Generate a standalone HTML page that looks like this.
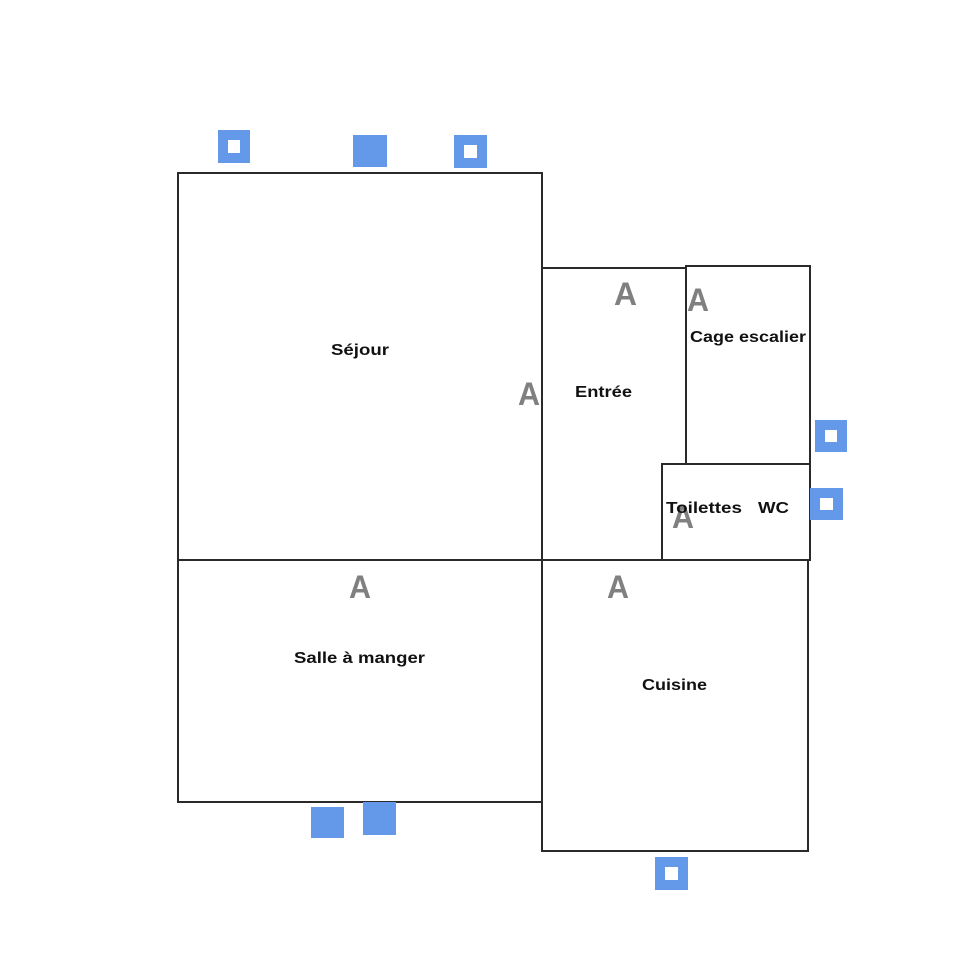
<!DOCTYPE html>
<html><head><meta charset="utf-8"><style>html,body{margin:0;padding:0;background:#fff}svg{display:block}</style></head>
<body>
<svg width="980" height="980" viewBox="0 0 980 980" xmlns="http://www.w3.org/2000/svg">
<g fill="none" stroke="#2a2a2a" stroke-width="2">
<rect x="178" y="173" width="364" height="387"/>
<path d="M542 268 H686"/>
<rect x="686" y="266" width="124" height="198"/>
<rect x="662" y="464" width="148" height="96"/>
<rect x="178" y="560" width="364" height="242"/>
<rect x="542" y="560" width="266" height="291"/>
</g>
<g font-family="Liberation Sans, sans-serif" font-weight="bold" font-size="32" fill="#808080">
<text x="518" y="405" textLength="22" lengthAdjust="spacingAndGlyphs">A</text>
<text x="614" y="305" textLength="23" lengthAdjust="spacingAndGlyphs">A</text>
<text x="687" y="311" textLength="22" lengthAdjust="spacingAndGlyphs">A</text>
<text x="672" y="528" textLength="22" lengthAdjust="spacingAndGlyphs">A</text>
<text x="349" y="598" textLength="22" lengthAdjust="spacingAndGlyphs">A</text>
<text x="607" y="598" textLength="22" lengthAdjust="spacingAndGlyphs">A</text>
</g>
<g font-family="Liberation Sans, sans-serif" font-weight="bold" font-size="16" fill="#111">
<text x="331" y="355" textLength="58" lengthAdjust="spacingAndGlyphs">Séjour</text>
<text x="575" y="397" textLength="57" lengthAdjust="spacingAndGlyphs">Entrée</text>
<text x="690" y="342" textLength="116" lengthAdjust="spacingAndGlyphs">Cage escalier</text>
<text x="666" y="513" textLength="76" lengthAdjust="spacingAndGlyphs">Toilettes</text>
<text x="758" y="513" textLength="31" lengthAdjust="spacingAndGlyphs">WC</text>
<text x="294" y="663" textLength="131" lengthAdjust="spacingAndGlyphs">Salle à manger</text>
<text x="642" y="690" textLength="65" lengthAdjust="spacingAndGlyphs">Cuisine</text>
</g>
<g fill="#6499e9">
<rect x="218" y="130" width="32" height="33"/>
<rect x="353" y="135" width="34" height="32"/>
<rect x="454" y="135" width="33" height="33"/>
<rect x="815" y="420" width="32" height="32"/>
<rect x="810" y="488" width="33" height="32"/>
<rect x="311" y="807" width="33" height="31"/>
<rect x="363" y="802" width="33" height="33"/>
<rect x="655" y="857" width="33" height="33"/>
</g>
<g fill="#fff">
<rect x="228" y="140" width="12" height="13"/>
<rect x="464" y="145" width="13" height="13"/>
<rect x="825" y="430" width="12" height="12"/>
<rect x="820" y="498" width="13" height="12"/>
<rect x="665" y="867" width="13" height="13"/>
</g>
</svg>
</body></html>
